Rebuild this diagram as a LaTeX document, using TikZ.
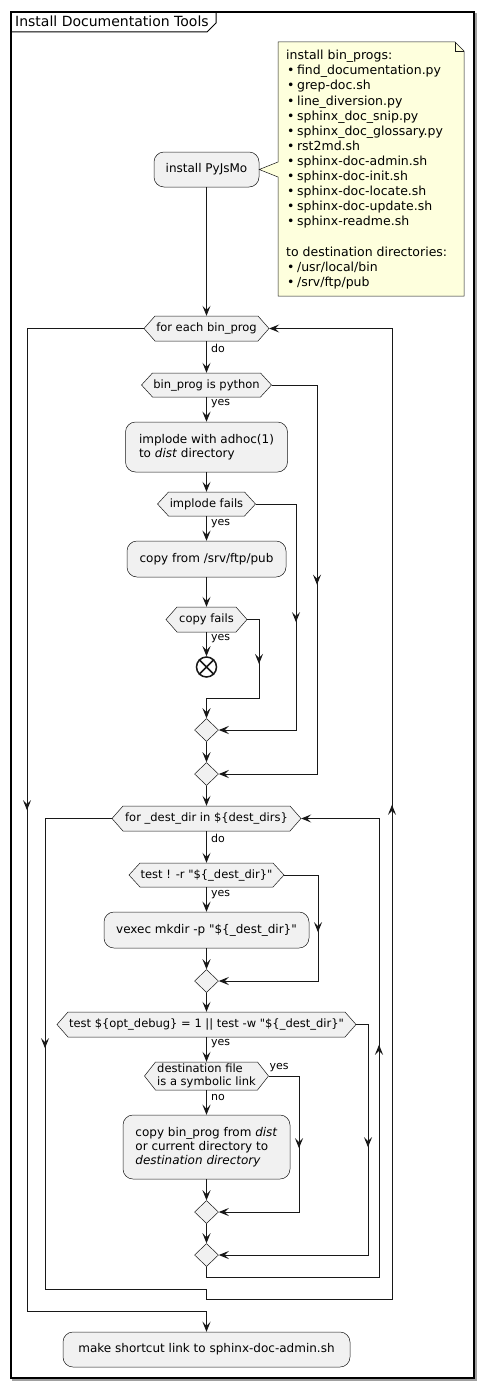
\documentclass[tikz,border=0pt]{standalone}
\usepackage{fontspec}
\setmainfont{DejaVu Sans}
\newfontfamily\qfont{DejaVu Sans}
\usetikzlibrary{arrows.meta,decorations.markings,shapes.geometric}
\definecolor{boxfill}{HTML}{F1F1F1}
\definecolor{boxline}{HTML}{181818}
\definecolor{notefill}{HTML}{FEFFDD}
\definecolor{ink}{HTML}{181818}
\definecolor{shadow}{HTML}{A0A0A0}
\tikzset{
  tipA/.tip={Stealth[length=10pt,width=8pt,inset=4pt]},
  act/.style={draw=boxline, line width=0.5pt, fill=boxfill, rounded corners=10pt,
    font=\fontsize{12}{13.8}\selectfont, align=left, inner sep=0pt},
  hexlbl/.style={font=\fontsize{11.5}{13}\selectfont, inner sep=0pt, align=left},
  hexshape/.style={draw=boxline, line width=0.5pt, fill=boxfill},
  dia/.style={diamond, draw=boxline, line width=0.5pt, fill=boxfill, minimum width=24pt, minimum height=23pt, inner sep=0pt},
  endnode/.style={circle, draw=ink, line width=1.5pt, fill=white, minimum size=20pt, inner sep=0pt},
  lbl/.style={font=\fontsize{11}{12}\selectfont, inner sep=0pt, anchor=west},
  line/.style={draw=ink, line width=1pt},
  arr/.style={line, -tipA},
  mid/.style={postaction={decorate}, decoration={markings, mark=at position #1 with {\arrow{tipA}}}},
  notetxt/.style={font=\fontsize{12.5}{15.1}\selectfont, align=left, inner sep=0pt, anchor=north west},
  ttl/.style={font=\fontsize{14}{16}\selectfont, inner sep=0pt, anchor=west}
}
\newcommand{\hexbox}[6]{%
  \path[hexshape] ({#2-#4},#3) -- ({#2-#4+11},{#3-#5}) -- ({#2+#4-11},{#3-#5}) -- ({#2+#4},#3) -- ({#2+#4-11},{#3+#5}) -- ({#2-#4+11},{#3+#5}) -- cycle;
  \node[hexlbl, minimum width=2*#4pt, minimum height=2*#5pt] (#1) at (#2,#3) {#6};
}
\newcommand{\nb}{\hspace*{1pt}\textbullet\hspace{2.5pt}}
\newcommand{\qd}{{\qfont"}}
\begin{document}
\begin{tikzpicture}[x=1pt,y=-1pt]
\useasboundingbox (0,0) rectangle (484,1389);
\fill[white] (0,0) rectangle (484,1389);
% frame
\draw[shadow, line width=1.5pt] (13,14) rectangle (476,1380);
\draw[black, line width=1.5pt, fill=white] (11,12) rectangle (474,1378);
\draw[black, line width=1pt] (11,32) -- (207,32) -- (216,23) -- (216,12);
\node[ttl] (title) at (15,21.5) {Install Documentation Tools};

% first activity and note
\node[act, minimum width=105pt, minimum height=35pt] (a1) at (206.5,169.5) {install PyJsMo};
\path[draw=boxline, line width=0.5pt, fill=notefill] (278,42) -- (455,42) -- (464,51) -- (464,296) -- (278,296) -- (278,177) -- (a1.east) -- (278,162) -- cycle;
\draw[boxline, line width=0.5pt] (455,42) -- (455,51) -- (464,51);
\node[notetxt] (note) at (286,50) {install bin\_progs:\\
\nb find\_documentation.py\\
\nb grep-doc.sh\\
\nb line\_diversion.py\\
\nb sphinx\_doc\_snip.py\\
\nb sphinx\_doc\_glossary.py\\
\nb rst2md.sh\\
\nb sphinx-doc-admin.sh\\
\nb sphinx-doc-init.sh\\
\nb sphinx-doc-locate.sh\\
\nb sphinx-doc-update.sh\\
\nb sphinx-readme.sh\\[15.1pt]
to destination directories:\\
\nb /usr/local/bin\\
\nb /srv/ftp/pub};

% outer loop
\hexbox{h1}{206.5}{328.5}{62.5}{12.5}{for each bin\_prog}
\hexbox{h2}{206.5}{385}{65}{12}{bin\_prog is python}
\node[act, minimum width=162pt, minimum height=50pt] (a2) at (206.5,447) {implode with adhoc(1)\\to \textit{dist} directory};
\hexbox{h3}{206.5}{504}{49}{12}{implode fails}
\node[act, minimum width=159pt, minimum height=36pt] (a3) at (206.5,559) {copy from /srv/ftp/pub};
\hexbox{h4}{206.5}{619.5}{40.5}{12.5}{copy fails}
\node[endnode] (end) at (206.5,667) {};
\draw[ink, line width=1.5pt] (end.north east) -- (end.south west) (end.north west) -- (end.south east);
\node[dia] (d1) at (206.5,730) {};
\node[dia] (d2) at (206.5,774) {};

% inner loop
\hexbox{h5}{206.5}{818.5}{94.5}{12.5}{for \_dest\_dir in \$\{dest\_dirs\}}
\hexbox{h6}{206.5}{875}{77.5}{12}{test ! -r \qd\$\{\_dest\_dir\}\qd}
\node[act, minimum width=205pt, minimum height=36pt] (a4) at (206.5,930) {vexec mkdir -p \qd\$\{\_dest\_dir\}\qd};
\node[dia] (d3) at (206.5,981) {};
\hexbox{h7}{206.5}{1024.5}{149.5}{12.5}{test \$\{opt\_debug\} = 1 || test -w \qd\$\{\_dest\_dir\}\qd}
\hexbox{h8}{206.5}{1076}{62}{14}{destination file\\is a symbolic link}
\node[act, minimum width=167pt, minimum height=64pt] (a5) at (206.5,1147) {copy bin\_prog from \textit{dist}\\or current directory to\\\textit{destination directory}};
\node[dia] (d4) at (206.5,1212) {};
\node[dia] (d5) at (206.5,1255) {};
\node[act, minimum width=287pt, minimum height=35pt] (a6) at (206.5,1349.5) {make shortcut link to sphinx-doc-admin.sh};

% labels
\node[lbl] (l1) at (211,348) {do};
\node[lbl] (l2) at (211,404) {yes};
\node[lbl] (l3) at (211,524) {yes};
\node[lbl] (l4) at (211,639) {yes};
\node[lbl] (l5) at (211,838) {do};
\node[lbl] (l6) at (211,895) {yes};
\node[lbl] (l7) at (211,1044) {yes};
\node[lbl] (l8) at (269.5,1068) {yes};
\node[lbl] (l9) at (211,1097) {no};

% corner coordinates
\coordinate (b1a) at (317,385);   \coordinate (b1b) at (317,774);
\coordinate (b2a) at (296,504);   \coordinate (b2b) at (296,730);
\coordinate (b3a) at (259,619.5); \coordinate (b3b) at (259,698); \coordinate (b3c) at (206.5,698);
\coordinate (oxa) at (27,328.5);  \coordinate (oxb) at (27,1311); \coordinate (oxc) at (206.5,1311);
\coordinate (oba) at (45,818.5);  \coordinate (obb) at (45,1289); \coordinate (obc) at (206.5,1289);
\coordinate (obd) at (206.5,1299); \coordinate (obe) at (392,1299); \coordinate (obf) at (392,328.5);
\coordinate (iba) at (206.5,1277); \coordinate (ibb) at (379,1277); \coordinate (ibc) at (379,818.5);
\coordinate (b4a) at (318,875);   \coordinate (b4b) at (318,981);
\coordinate (b5a) at (368,1024.5); \coordinate (b5b) at (368,1255);
\coordinate (b6a) at (299,1076);  \coordinate (b6b) at (299,1212);

% straight flow
\draw[arr] (a1.south) -- (h1.north);
\draw[arr] (h1.south) -- (h2.north);
\draw[arr] (h2.south) -- (a2.north);
\draw[arr] (a2.south) -- (h3.north);
\draw[arr] (h3.south) -- (a3.north);
\draw[arr] (a3.south) -- (h4.north);
\draw[arr] (h4.south) -- (end.north);
\draw[arr] (d1.south) -- (d2.north);
\draw[arr] (d2.south) -- (h5.north);
\draw[arr] (h5.south) -- (h6.north);
\draw[arr] (h6.south) -- (a4.north);
\draw[arr] (a4.south) -- (d3.north);
\draw[arr] (d3.south) -- (h7.north);
\draw[arr] (h7.south) -- (h8.north);
\draw[arr] (h8.south) -- (a5.north);
\draw[arr] (a5.south) -- (d4.north);
\draw[arr] (d4.south) -- (d5.north);

% branches
\draw[arr, mid=245pt] (h2.east) -- (b1a) -- (b1b) -- (d2.east);
\draw[arr, mid=158.5pt] (h3.east) -- (b2a) -- (b2b) -- (d1.east);
\draw[arr, mid=56.25pt] (h4.east) -- (b3a) -- (b3b) -- (b3c) -- (d1.north);
\draw[arr, mid=91pt] (h6.east) -- (b4a) -- (b4b) -- (d3.east);
\draw[arr, mid=134.5pt] (h7.east) -- (b5a) -- (b5b) -- (d5.east);
\draw[arr, mid=102.5pt] (h8.east) -- (b6a) -- (b6b) -- (d4.east);

% loops
\draw[arr, mid=415pt] (d5.south) -- (iba) -- (ibb) -- (ibc) -- (h5.east);
\draw[arr, postaction={decorate}, decoration={markings,
   mark=at position 296.5pt with {\arrow{tipA}},
   mark=at position 1388.5pt with {\arrow{tipA}}}]
   (h5.west) -- (oba) -- (obb) -- (obc) -- (obd) -- (obe) -- (obf) -- (h1.east);
\draw[arr, mid=598.5pt] (h1.west) -- (oxa) -- (oxb) -- (oxc) -- (a6.north);
\end{tikzpicture}
\end{document}
